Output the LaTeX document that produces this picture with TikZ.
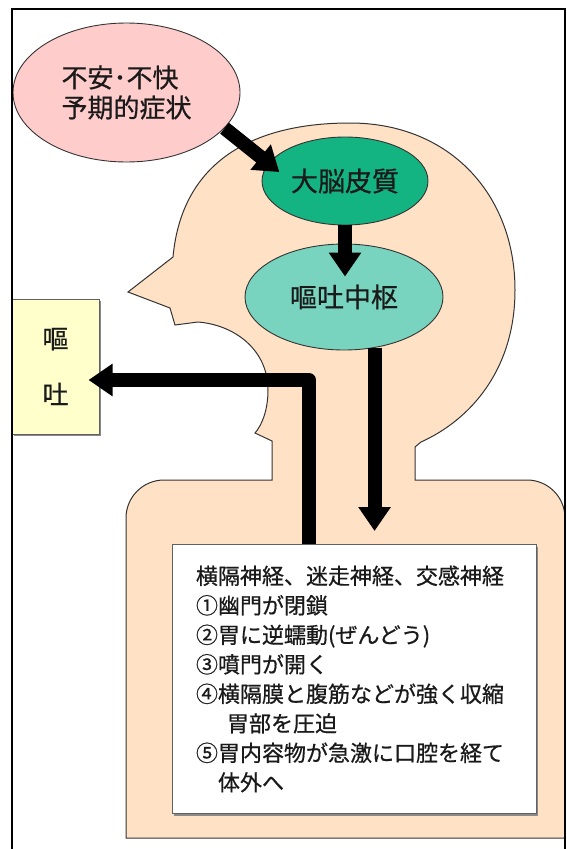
\documentclass[tikz,border=0pt]{standalone}
\usepackage{fontspec}
\newfontfamily\jpfont[FakeBold=0.6]{Noto Sans CJK JP}
\usetikzlibrary{arrows.meta,positioning,shapes.geometric,shadows}
\definecolor{ink}{HTML}{1A1A1A}
\definecolor{rim}{HTML}{333333}
\definecolor{skin}{HTML}{FFE2C6}
\definecolor{worry}{HTML}{FFCCCC}
\definecolor{cortexfill}{HTML}{14B382}
\definecolor{centerfill}{HTML}{78D4BE}
\definecolor{outfill}{HTML}{FFFFCC}
\definecolor{shadowgray}{HTML}{8A8A8A}

\begin{document}
\begin{tikzpicture}[
  x=1pt, y=-1pt,
  font=\jpfont, text=ink,
  bubble/.style={ellipse, draw=rim, line width=0.9pt, inner sep=0pt},
  card/.style={rectangle, draw=shadowgray!70!black, line width=1pt, inner sep=0pt,
    drop shadow={shadow xshift=2pt, shadow yshift=-2pt, fill=shadowgray, opacity=1}},
  bigarrow/.style={-{Triangle[width=31pt,length=24pt]}, line width=14pt,
    draw=black, line join=round}
]
\useasboundingbox (0,0) rectangle (567,849);

% body and head as one outline
\path[fill=skin, draw=rim, line width=1pt]
  (272,480) -- (164,480) arc[start angle=270, end angle=180, radius=38]
  -- (126,838) -- (565,838) -- (565,518) arc[start angle=0, end angle=-90, radius=38]
  -- (415,480) -- (415,447) -- (421,442)
  .. controls (470,420) and (515,370) .. (515,290)
  .. controls (515,195) and (450,123) .. (350,123)
  .. controls (255,123) and (182,160) .. (173,257)
  -- (128,292) -- (170,308) -- (175,325) -- (198,322)
  .. controls (235,325) and (268,350) .. (268,390)
  .. controls (268,410) and (262,425) .. (255,433)
  -- (272,441) -- cycle;

\node[bubble, fill=worry, minimum width=227pt, minimum height=139pt, align=left,
  font=\jpfont\fontsize{26}{30}\selectfont] (anxiety) at (126.5,92.5)
  {不安･不快\\予期的症状};
\node[bubble, fill=cortexfill, minimum width=166pt, minimum height=88pt,
  font=\jpfont\fontsize{27}{30}\selectfont] (cortex) at (345,181) {大脳皮質};
\node[bubble, fill=centerfill, minimum width=198pt, minimum height=106pt,
  font=\jpfont\fontsize{27}{30}\selectfont] (vomitcenter) at (344,297) {嘔吐中枢};

\node[card, fill=outfill, minimum width=87pt, minimum height=135pt, align=center,
  font=\jpfont\fontsize{26}{56}\selectfont] (vomit) at (55.5,366.5) {嘔\\吐};

\node[card, fill=white, minimum width=364pt, minimum height=269pt, text width=316pt,
  align=left, font=\jpfont\fontsize{22}{29.5}\selectfont] (notes) at (354,679)
  {横隔神経、迷走神経、交感神経\\
   ①幽門が閉鎖\\
   ②胃に逆蠕動(ぜんどう)\\
   ③噴門が開く\\
   ④横隔膜と腹筋などが強く収縮\\
   \hspace*{31pt}胃部を圧迫\\
   ⑤胃内容物が急激に口腔を経て\\
   \hspace*{22pt}体外へ};

\draw[bigarrow, shorten >=-14pt] (anxiety.-20) -- (cortex.167);
\draw[bigarrow, shorten >=-33pt] (cortex.south) -- (vomitcenter.north -| cortex.south);
\draw[bigarrow, shorten >=13pt] (vomitcenter.-59) -- (vomitcenter.-59 |- notes.north);
\draw[bigarrow, shorten >=-11pt] ([xshift=-45pt]notes.north) |- ([yshift=-13.5pt]vomit.east);

% page frame, open at the bottom
\draw[line width=2pt] (12,849) -- (12,9) -- (565,9) -- (565,849);
\end{tikzpicture}
\end{document}
